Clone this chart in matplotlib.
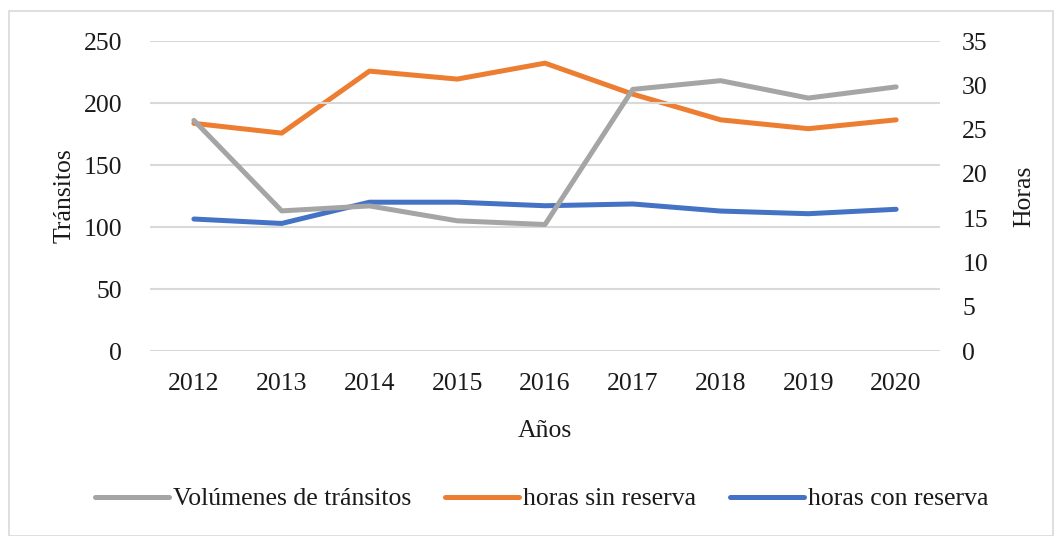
import matplotlib.pyplot as plt
from matplotlib.patches import Rectangle

plt.rcParams['font.family'] = ['Liberation Serif', 'DejaVu Serif']

years = ['2012', '2013', '2014', '2015', '2016', '2017', '2018', '2019', '2020']
transitos = [186, 113, 117, 105, 102, 211, 218, 204, 213]
horas_sin = [25.7, 24.6, 31.6, 30.7, 32.5, 29.0, 26.1, 25.1, 26.1]
horas_con = [14.9, 14.4, 16.8, 16.8, 16.4, 16.6, 15.8, 15.5, 16.0]

gray = '#a5a5a5'
orange = '#ed7d31'
blue = '#4472c4'
txt = '#1a1a1a'
fs = 18.5

fig = plt.figure(figsize=(10.56, 5.36), dpi=100)
ax = fig.add_axes([150 / 1056, 1 - 351 / 536, 790 / 1056, 310 / 536])
ax2 = ax.twinx()

x = list(range(len(years)))
l1, = ax.plot(x, transitos, color=gray, lw=3.6, solid_capstyle='round', solid_joinstyle='round', zorder=3)
l2, = ax2.plot(x, horas_sin, color=orange, lw=3.6, solid_capstyle='round', solid_joinstyle='round')
l3, = ax2.plot(x, horas_con, color=blue, lw=3.6, solid_capstyle='round', solid_joinstyle='round')

ax.set_xlim(-0.5, len(years) - 0.5)
ax.set_ylim(0, 250)
ax.set_yticks(range(0, 251, 50))
ax2.set_ylim(0, 35)
ax2.set_yticks(range(0, 36, 5))
ax.set_xticks(x)
ax.set_xticklabels(years)

ax.grid(axis='y', color='#d9d9d9', lw=1.5)
ax.set_axisbelow(True)
for a in (ax, ax2):
    for s in a.spines.values():
        s.set_visible(False)
    a.tick_params(length=0, labelsize=fs, colors=txt)
ax.tick_params(axis='y', pad=20)
ax2.tick_params(axis='y', pad=16)
ax.tick_params(axis='x', pad=16)
ax.set_zorder(ax2.get_zorder() + 1)
ax.patch.set_visible(False)

ax.set_xlabel('Años', fontsize=fs, color=txt, labelpad=18)
ax.set_ylabel('Tránsitos', fontsize=fs, color=txt, labelpad=6)
ax2.set_ylabel('Horas', fontsize=fs, color=txt, labelpad=18, rotation=90)

fig.legend([l1, l2, l3], ['Volúmenes de tránsitos', 'horas sin reserva', 'horas con reserva'],
           loc='center', bbox_to_anchor=(0.513, 1 - 499 / 536), ncol=3, frameon=False,
           fontsize=fs, handlelength=2.9, handletextpad=0.15, columnspacing=1.3,
           labelcolor=txt)

fig.patches.append(Rectangle((9 / 1056, 0), 1 - 12 / 1056, 1 - 11 / 536,
                             transform=fig.transFigure, fill=False,
                             edgecolor='#d9d9d9', lw=1.2))

fig.savefig('out.png', dpi=100)
